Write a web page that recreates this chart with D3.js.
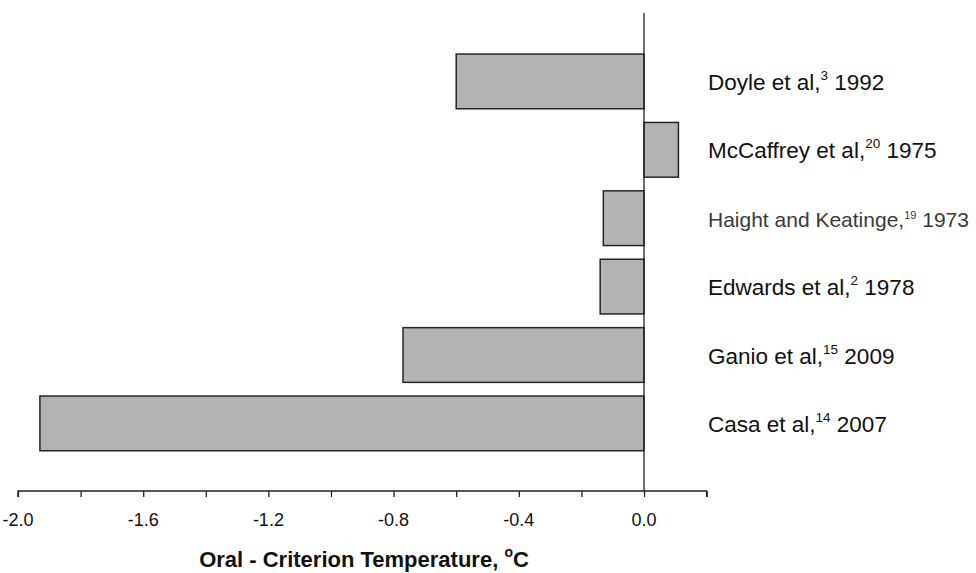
<!DOCTYPE html>
<html><head><meta charset="utf-8">
<script src="https://cdn.jsdelivr.net/npm/d3@7"></script>
<style>body{margin:0;background:#fff}svg{display:block}text{font-family:"Liberation Sans",Arial,sans-serif}</style>
</head><body>
<svg id="c" width="976" height="573"></svg>
<script>
const studies = ["Doyle et al,", "McCaffrey et al,", "Haight and Keatinge,", "Edwards et al,", "Ganio et al,", "Casa et al,"];
const refs = ["3", "20", "19", "2", "15", "14"];
const years = ["1992", "1975", "1973", "1978", "2009", "2007"];
const values = [-0.60, 0.11, -0.13, -0.14, -0.77, -1.93];
const tickValues = [-2.0, -1.6, -1.2, -0.8, -0.4, 0.0];
const minorTicks = [-2.0,-1.8,-1.6,-1.4,-1.2,-1.0,-0.8,-0.6,-0.4,-0.2,0.0,0.2];

const svg = d3.select("#c");
const x = d3.scaleLinear().domain([-2.0, 0.2]).range([18, 706.6]);
const y = d3.scaleBand().domain(studies).range([47.2, 457.6]).paddingInner(0.2).paddingOuter(0.1);
const axisY = 491;

// bars
svg.append("g").selectAll("rect").data(values).join("rect")
  .attr("x", d => x(Math.min(0, d)))
  .attr("width", d => Math.abs(x(d) - x(0)))
  .attr("y", (d, i) => y(studies[i]))
  .attr("height", y.bandwidth())
  .attr("fill", "#b3b3b3").attr("stroke", "#262626").attr("stroke-width", 1.5);

// zero line
svg.append("line").attr("x1", x(0)).attr("x2", x(0)).attr("y1", 13).attr("y2", axisY)
  .attr("stroke", "#222").attr("stroke-width", 1.3);

// x axis
const ax = svg.append("g").attr("transform", `translate(0,${axisY})`)
  .call(d3.axisBottom(x).tickValues(minorTicks).tickSize(6).tickFormat(""));
ax.select(".domain").attr("stroke", "#222").attr("stroke-width", 1.3).attr("d", `M${x(-2)},6V0H${x(0.2)}V6`);
ax.selectAll(".tick line").attr("stroke", "#222").attr("stroke-width", 1.3);

svg.append("g").selectAll("text").data(tickValues).join("text")
  .attr("x", d => x(d)).attr("y", 526).attr("text-anchor", "middle")
  .attr("font-size", 18).attr("fill", "#111")
  .text(d => d.toFixed(1));

// labels
const small = i => i === 2;
const lab = svg.append("g").selectAll("text").data(studies).join("text")
  .attr("x", 708)
  .attr("y", d => y(d) + y.bandwidth() / 2 + 8.5)
  .attr("font-size", (d, i) => small(i) ? 21 : 22.5)
  .attr("fill", (d, i) => small(i) ? "#3a3a3a" : "#111");
lab.append("tspan").text(d => d);
lab.append("tspan").attr("dy", (d, i) => small(i) ? -8 : -10).attr("font-size", (d, i) => small(i) ? 11 : 13.5).text((d, i) => refs[i]);
lab.append("tspan").attr("dy", (d, i) => small(i) ? 8 : 10).text((d, i) => "\u00a0" + years[i]);

// title
const t = svg.append("text").attr("x", 364).attr("y", 567).attr("text-anchor", "middle")
  .attr("font-size", 22).attr("font-weight", "bold").attr("fill", "#111");
t.append("tspan").text("Oral - Criterion Temperature, ");
t.append("tspan").attr("dy", -10).attr("font-size", 14).text("o");
t.append("tspan").attr("dy", 10).text("C");
</script>
</body></html>
